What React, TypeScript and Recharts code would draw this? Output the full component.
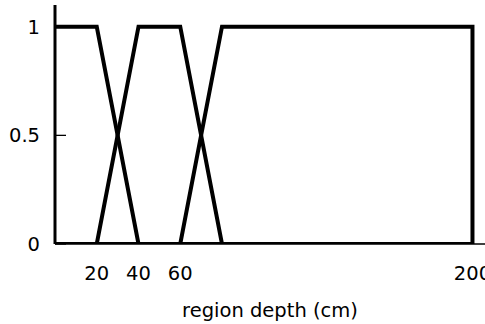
import { LineChart, Line, XAxis, YAxis } from 'recharts'

// fuzzy membership functions over region depth
const lowX = [0, 20, 40, 200]
const lowY = [1, 1, 0, 0]
const midX = [0, 20, 40, 60, 80, 200]
const midY = [0, 0, 1, 1, 0, 0]
const highX = [0, 60, 80, 200, 200]
const highY = [0, 0, 1, 1, 0]

const xTicks = [20, 40, 60, 200]
const yTicks = [0, 0.5, 1]

const toPoints = (xs: number[], ys: number[]) => xs.map((x, i) => ({ x, y: ys[i] }))

const low = toPoints(lowX, lowY)
const mid = toPoints(midX, midY)
const high = toPoints(highX, highY)

const font = { fontFamily: 'DejaVu Sans', fontSize: 19.5, fill: '#000' }

export default function App() {
  return (
    <div style={{ position: 'absolute', left: 0, top: 0, background: '#fff' }}>
      <LineChart width={485} height={324} margin={{ top: 5, right: 0, bottom: 0, left: 0 }}>
        <XAxis
          dataKey="x"
          type="number"
          domain={[0, 206]}
          ticks={xTicks}
          tickLine={false}
          tickSize={0}
          tickMargin={22}
          axisLine={{ stroke: '#000', strokeWidth: 1.3 }}
          tick={font}
          height={80}
          interval={0}
          allowDataOverflow
          label={{
            value: 'region depth (cm)',
            position: 'insideBottom',
            offset: 7,
            style: { ...font, textAnchor: 'middle' },
          }}
        />
        <YAxis
          type="number"
          domain={[0, 1.1]}
          ticks={yTicks}
          width={55}
          tickSize={-11}
          tickMargin={26}
          tickLine={{ stroke: '#000', strokeWidth: 1.3 }}
          axisLine={{ stroke: '#000', strokeWidth: 3 }}
          tick={font}
          interval={0}
          allowDataOverflow
        />
        <Line data={low} dataKey="y" type="linear" stroke="#000" strokeWidth={4} dot={false} isAnimationActive={false} />
        <Line data={mid} dataKey="y" type="linear" stroke="#000" strokeWidth={4} dot={false} isAnimationActive={false} />
        <Line data={high} dataKey="y" type="linear" stroke="#000" strokeWidth={4} dot={false} isAnimationActive={false} />
      </LineChart>
    </div>
  )
}
